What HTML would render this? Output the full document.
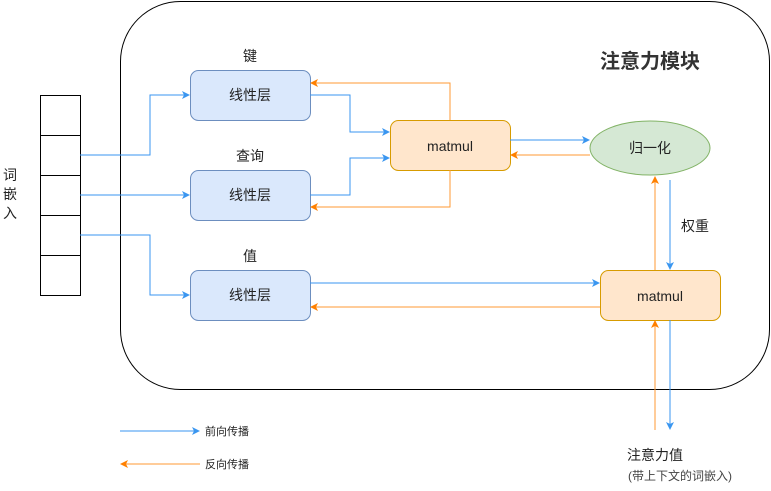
<!DOCTYPE html>
<html><head><meta charset="utf-8"><style>
body{margin:0;background:#fff;}
svg{display:block;font-family:"Liberation Sans","Noto Sans CJK SC",sans-serif;}
</style></head><body>
<svg width="771" height="491" viewBox="0 0 771 491" xmlns="http://www.w3.org/2000/svg">
<defs>
<marker id="b" markerWidth="8" markerHeight="8" refX="7" refY="4" orient="auto" markerUnits="userSpaceOnUse"><path d="M0,0 L8,4 L0,8 L2,4 z" fill="#3a96f0"/></marker>
<marker id="o" markerWidth="8" markerHeight="8" refX="7" refY="4" orient="auto" markerUnits="userSpaceOnUse"><path d="M0,0 L8,4 L0,8 L2,4 z" fill="#ff8000"/></marker>
</defs>
<rect x="120.5" y="1.5" width="649" height="388" rx="60" fill="#fff" stroke="#000" stroke-width="1"/>
<text x="650" y="68" font-size="20" font-weight="bold" text-anchor="middle" fill="#333">注意力模块</text>
<g fill="#fff" stroke="#000">
<rect x="40.5" y="95.5" width="40" height="40"/><rect x="40.5" y="135.5" width="40" height="40"/><rect x="40.5" y="175.5" width="40" height="40"/><rect x="40.5" y="215.5" width="40" height="40"/><rect x="40.5" y="255.5" width="40" height="40"/>
</g>
<g font-size="14" fill="#222" text-anchor="middle">
<text x="10" y="180">词</text><text x="10" y="199">嵌</text><text x="10" y="218">入</text>
<text x="250" y="61">键</text><text x="250" y="161">查询</text><text x="250" y="261">值</text>
<text x="695" y="231">权重</text>
<text x="655" y="460">注意力值</text>
</g>
<text x="680" y="480" font-size="12" fill="#444" text-anchor="middle">(带上下文的词嵌入)</text>
<g fill="#dae8fc" stroke="#6c8ebf">
<rect x="190.5" y="70.5" width="120" height="50" rx="8"/><rect x="190.5" y="170.5" width="120" height="50" rx="8"/><rect x="190.5" y="270.5" width="120" height="50" rx="8"/>
</g>
<g fill="#ffe6cc" stroke="#d79b00">
<rect x="390.5" y="120.5" width="120" height="50" rx="8"/><rect x="600.5" y="270.5" width="120" height="50" rx="8"/>
</g>
<ellipse cx="650" cy="148" rx="60" ry="27" fill="#d5e8d4" stroke="#82b366"/>
<g font-size="14" fill="#222" text-anchor="middle">
<text x="250" y="100">线性层</text><text x="250" y="200">线性层</text><text x="250" y="300">线性层</text>
<text x="450" y="151">matmul</text><text x="660" y="301">matmul</text><text x="650" y="153">归一化</text>
</g>
<g fill="none" stroke="#3a96f0" stroke-width="1">
<path d="M80,155 H150 V95 H189" marker-end="url(#b)"/>
<path d="M80,195 H189" marker-end="url(#b)"/>
<path d="M80,235 H150 V295 H189" marker-end="url(#b)"/>
<path d="M310,95 H350 V132 H389" marker-end="url(#b)"/>
<path d="M310,195 H350 V158 H389" marker-end="url(#b)"/>
<path d="M510,140 H589" marker-end="url(#b)"/>
<path d="M670,180 V269" marker-end="url(#b)"/>
<path d="M310,283 H599" marker-end="url(#b)"/>
<path d="M670,320 V429" marker-end="url(#b)"/>
<path d="M120,431 H199" marker-end="url(#b)"/>
</g>
<g fill="none" stroke="#ff9a33" stroke-width="1">
<path d="M450,120 V83 H311" marker-end="url(#o)"/>
<path d="M450,170 V207 H311" marker-end="url(#o)"/>
<path d="M590,155 H511" marker-end="url(#o)"/>
<path d="M655,270 V177" marker-end="url(#o)"/>
<path d="M600,307 H311" marker-end="url(#o)"/>
<path d="M655,430 V321" marker-end="url(#o)"/>
<path d="M200,464 H121" marker-end="url(#o)"/>
</g>
<g font-size="11" fill="#222">
<text x="205" y="435">前向传播</text><text x="205" y="468">反向传播</text>
</g>
</svg>
</body></html>
